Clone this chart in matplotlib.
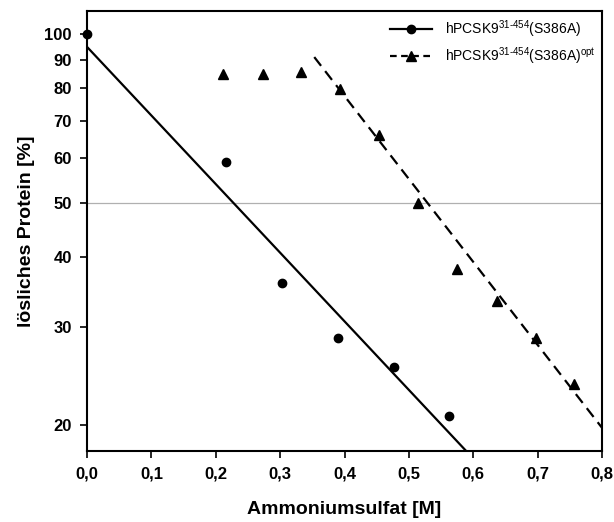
import numpy as np
import matplotlib
matplotlib.use("Agg")
import matplotlib.pyplot as plt
from matplotlib.lines import Line2D
from matplotlib.ticker import FixedLocator, NullLocator, FuncFormatter

plt.rcParams['font.family'] = ['Liberation Sans', 'DejaVu Sans']
plt.rcParams['mathtext.fontset'] = 'custom'
plt.rcParams['mathtext.rm'] = 'Liberation Sans'

# hPCSK9 31-454 (S386A)
conc_a = [0.0, 0.216, 0.303, 0.390, 0.477, 0.563]
prot_a = [100, 59.1, 35.9, 28.6, 25.4, 20.8]
# hPCSK9 31-454 (S386A) opt
conc_b = [0.212, 0.273, 0.333, 0.393, 0.454, 0.514, 0.575, 0.637, 0.698, 0.757]
prot_b = [84.9, 84.9, 85.5, 79.8, 66.0, 49.9, 38.0, 33.4, 28.7, 23.7]

# regression lines (end points)
fit_a_x = [0.0, 0.589]
fit_a_y = [94.9, 18.0]
fit_b_x = [0.353, 0.8]
fit_b_y = [91.0, 19.8]

y_ticks = [20, 30, 40, 50, 60, 70, 80, 90, 100]
x_ticks = [0.0, 0.1, 0.2, 0.3, 0.4, 0.5, 0.6, 0.7, 0.8]

label_a = r"hPCSK9$^{\text{31-454}}$(S386A)"
label_b = r"hPCSK9$^{\text{31-454}}$(S386A)$^{\text{opt}}$"

fig = plt.figure(figsize=(6.14, 5.22), dpi=100)
ax = fig.add_axes([0.1417, 0.136, 0.8388, 0.843])

ax.axhline(50, color='#b0b0b0', lw=0.9, zorder=1)

ax.plot(fit_a_x, fit_a_y, color='black', lw=1.6, ls='-')
ax.plot(fit_b_x, fit_b_y, color='black', lw=1.6, ls=(0, (5, 3)))
ax.plot(conc_a, prot_a, 'o', color='black', ms=6, clip_on=False, zorder=3)
ax.plot(conc_b, prot_b, '^', color='black', ms=6.5, clip_on=False, zorder=3)

ax.set_yscale('log')
ax.set_ylim(18.0, 110)
ax.set_xlim(0, 0.8)
ax.yaxis.set_major_locator(FixedLocator(y_ticks))
ax.yaxis.set_minor_locator(NullLocator())
ax.yaxis.set_major_formatter(FuncFormatter(lambda v, p: f"{v:.0f}"))
ax.xaxis.set_major_locator(FixedLocator(x_ticks))
ax.xaxis.set_major_formatter(FuncFormatter(lambda v, p: f"{v:.1f}".replace('.', ',')))

ax.tick_params(direction='out', length=5, width=1.2, labelsize=12, pad=6)
for lab in ax.get_xticklabels() + ax.get_yticklabels():
    lab.set_fontweight('bold')
for s in ax.spines.values():
    s.set_linewidth(1.5)

ax.set_xlabel('Ammoniumsulfat [M]', fontsize=14, fontweight='bold', labelpad=14)
ax.set_ylabel('lösliches Protein [%]', fontsize=14, fontweight='bold', labelpad=7)

handles = [Line2D([], [], color='black', lw=1.6, marker='o', ms=6),
           Line2D([], [], color='black', lw=1.6, ls=(0, (3, 2)), marker='^', ms=6.5)]
ax.legend(handles, [label_a, label_b], loc='upper right', frameon=False,
          fontsize=10, handlelength=3.0, borderaxespad=0.1, labelspacing=0.45,
          handletextpad=0.9)

fig.savefig('out.png', dpi=100)
